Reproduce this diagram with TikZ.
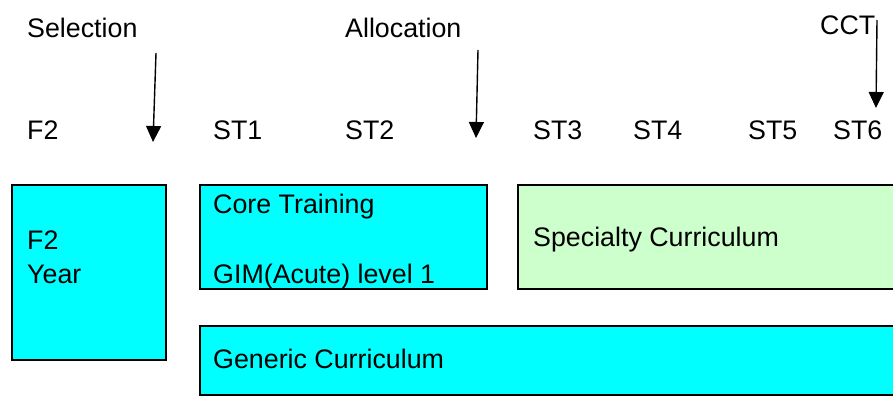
\documentclass[tikz,border=0pt]{standalone}
\usepackage{fontspec}
\setmainfont{Liberation Sans}
\usetikzlibrary{arrows.meta}
\tikzset{
  lbl/.style={anchor=base west,inner sep=0pt,font=\fontsize{26.8}{30}\selectfont},
  stagebox/.style={draw=black,line width=2pt},
  marker/.style={line width=1.4pt,-{Triangle[width=15pt,length=16pt]}}
}
\definecolor{boxcyan}{RGB}{0,255,255}
\definecolor{boxgreen}{RGB}{204,255,204}
\begin{document}
\begin{tikzpicture}[x=1pt,y=-1pt]
     \clip (0,0) rectangle (893,397);
     \fill[white] (0,0) rectangle (893,397);
%	milestones along the top
     \node[lbl] (sel) at (27,37) {Selection};
     \node[lbl] (alloc) at (345,37) {Allocation};
     \node[lbl] (cct) at (820,34) {CCT};
%	training years
     \node[lbl] (yf2) at (27,139) {F2};
     \node[lbl] (st1) at (213,139) {ST1};
     \node[lbl] (st2) at (345,139) {ST2};
     \node[lbl] (st3) at (533,139) {ST3};
     \node[lbl] (st4) at (633,139) {ST4};
     \node[lbl] (st5) at (748,139) {ST5};
     \node[lbl] (st6) at (833,139) {ST6};
%	the arrows
     \coordinate (selTop) at (156,53); \coordinate (selTip) at (153,142);
     \draw[marker] (selTop) -- (selTip);
     \coordinate (allocTop) at (478,50); \coordinate (allocTip) at (476,138);
     \draw[marker] (allocTop) -- (allocTip);
     \coordinate (cctTop) at (877,20); \coordinate (cctTip) at (876,108);
     \draw[marker] (cctTop) -- (cctTip);
%	now the boxes:
     \draw[stagebox,fill=boxcyan] (12,185) rectangle (166,360);
     \node[lbl] (f2a) at (27,249) {F2};
     \node[lbl] (f2b) at (27,283) {Year};
     \draw[stagebox,fill=boxcyan] (200,185) rectangle (487,289);
     \node[lbl] (core) at (213,213) {Core Training};
     \node[lbl] (gim) at (213,283) {GIM(Acute) level 1};
     \draw[stagebox,fill=boxgreen] (518,185) rectangle (905,289);
     \node[lbl] (spec) at (533,246) {Specialty Curriculum};
     \draw[stagebox,fill=boxcyan] (200,326) rectangle (905,395);
     \node[lbl] (gen) at (213,368) {Generic Curriculum};
    \end{tikzpicture}
\end{document}
